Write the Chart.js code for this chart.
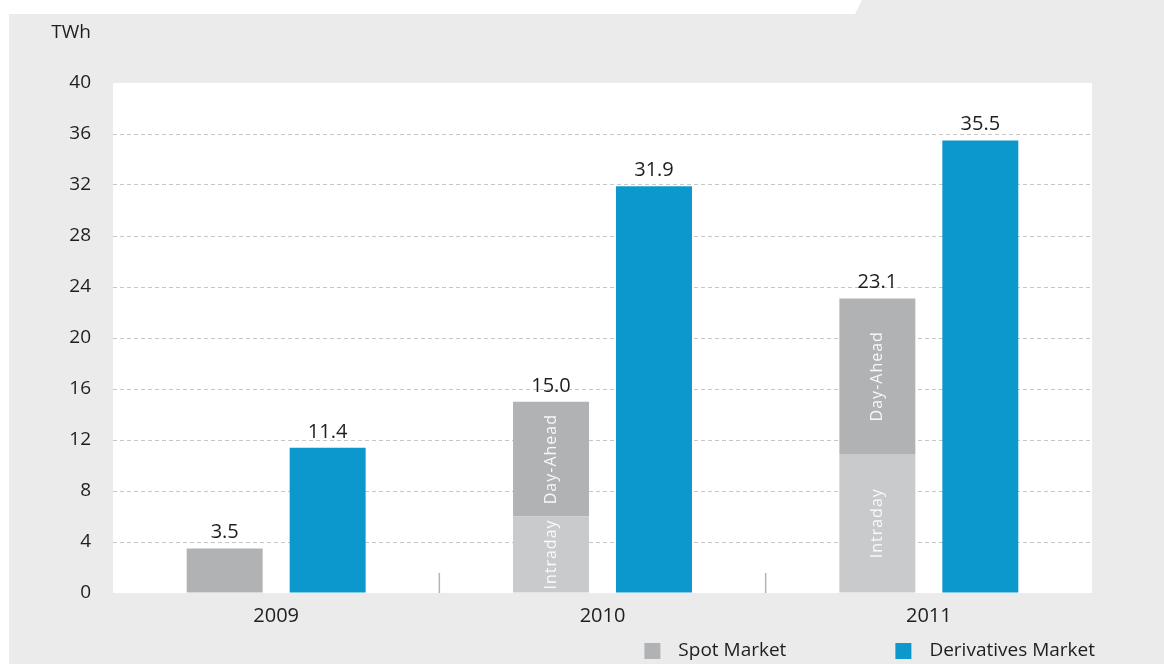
<!DOCTYPE html>
<html>
<head>
<meta charset="utf-8">
<script src="https://cdn.jsdelivr.net/npm/chart.js@4.4.1/dist/chart.umd.min.js"></script>
<style>
    html, body { margin: 0; padding: 0; background: #fff; }
    #wrap { position: relative; width: 1164px; height: 664px; }
</style>
</head>
<body>
<div id="wrap"><canvas id="volumes"></canvas></div>
<script>
// data (TWh)
const years = ['2009', '2010', '2011'];
const spotUnsplit = [3.5, null, null];
const intraday = [null, 6.0, 10.9];
const dayAhead = [null, 9.0, 12.2];
const derivatives = [11.4, 31.9, 35.5];
const yMax = 40;
const yStep = 4;
const unitLabel = 'TWh';

const FONT = '"Open Sans", "Noto Sans", sans-serif';
const TEXT = '#1e1e1e';
const SPOT = '#b1b2b4';
const INTRA = '#c9cacc';
const DERIV = '#0d98cd';

// background panel + plot area + unit label
const panel = {
    id: 'panel',
    beforeDraw(chart) {
        const { ctx, width, height, chartArea: { left, top, right, bottom } } = chart;
        ctx.save();
        ctx.fillStyle = '#ebebeb';
        ctx.beginPath();
        ctx.moveTo(9, 14);
        ctx.lineTo(855, 14);
        ctx.lineTo(862, 0);
        ctx.lineTo(width, 0);
        ctx.lineTo(width, height);
        ctx.lineTo(9, height);
        ctx.closePath();
        ctx.fill();

        ctx.fillStyle = '#fff';
        ctx.fillRect(left, top, right - left, bottom - top);

        ctx.font = '19px ' + FONT;
        ctx.fillStyle = TEXT;
        ctx.textAlign = 'right';
        ctx.textBaseline = 'middle';
        ctx.fillText(unitLabel, left - 22, 33);
        ctx.restore();
    },
    beforeDatasetsDraw(chart) {
        // short separators between the years
        const { ctx, scales: { x }, chartArea: { bottom } } = chart;
        ctx.save();
        ctx.strokeStyle = '#b4b4b4';
        ctx.lineWidth = 1.5;
        for (let i = 0; i < years.length - 1; i++) {
            const bx = (x.getPixelForTick(i) + x.getPixelForTick(i + 1)) / 2;
            ctx.beginPath();
            ctx.moveTo(bx, bottom - 20);
            ctx.lineTo(bx, bottom);
            ctx.stroke();
        }
        ctx.restore();
    }
};

// value labels, rotated segment names, legend
const annotate = {
    id: 'annotate',
    afterDatasetsDraw(chart) {
        const { ctx, data, chartArea: { right } } = chart;
        ctx.save();

        // segment names inside the split spot bars
        ctx.font = '16px ' + FONT;
        ctx.fillStyle = 'rgba(255,255,255,0.9)';
        ctx.textAlign = 'center';
        ctx.textBaseline = 'middle';
        ctx.letterSpacing = '1px';
        data.datasets.forEach((ds, di) => {
            if (!ds.inner) return;
            chart.getDatasetMeta(di).data.forEach((el, i) => {
                if (ds.data[i] == null) return;
                ctx.save();
                ctx.translate(el.x, (el.y + el.base) / 2);
                ctx.rotate(-Math.PI / 2);
                ctx.fillText(ds.inner, 0, 0);
                ctx.restore();
            });
        });
        ctx.letterSpacing = '0px';

        // totals on top of each stack
        ctx.font = '20px ' + FONT;
        ctx.fillStyle = TEXT;
        ctx.textBaseline = 'alphabetic';
        years.forEach((yr, i) => {
            ['spot', 'deriv'].forEach(stack => {
                let total = 0, top = null;
                data.datasets.forEach((ds, di) => {
                    if (ds.stack !== stack || ds.data[i] == null) return;
                    total += ds.data[i];
                    top = chart.getDatasetMeta(di).data[i];
                });
                if (top) ctx.fillText(total.toFixed(1), top.x, top.y - 10);
            });
        });

        // legend, bottom right
        const items = [['Spot Market', SPOT], ['Derivatives Market', DERIV]];
        ctx.font = '19px ' + FONT;
        ctx.textAlign = 'left';
        ctx.textBaseline = 'middle';
        const ly = 651;
        let xEnd = right + 3;
        for (let k = items.length - 1; k >= 0; k--) {
            const [label, color] = items[k];
            const w = ctx.measureText(label).width;
            const tx = xEnd - w;
            ctx.fillStyle = TEXT;
            ctx.fillText(label, tx, ly);
            ctx.fillStyle = color;
            ctx.fillRect(tx - 18 - 16, ly - 8, 16, 16);
            xEnd = tx - 18 - 16 - 109;
        }
        ctx.restore();
    }
};

const dataVolumes = {
    labels: years,
    datasets: [
        { label: 'Spot Market', data: spotUnsplit, backgroundColor: SPOT, stack: 'spot' },
        { label: 'Intraday', data: intraday, backgroundColor: INTRA, stack: 'spot', inner: 'Intraday' },
        { label: 'Day-Ahead', data: dayAhead, backgroundColor: SPOT, stack: 'spot', inner: 'Day-Ahead' },
        { label: 'Derivatives Market', data: derivatives, backgroundColor: DERIV, stack: 'deriv' }
    ]
};

const configVolumes = {
    type: 'bar',
    data: dataVolumes,
    options: {
        responsive: true,
        maintainAspectRatio: false,
        animation: false,
        categoryPercentage: 0.631,
        barPercentage: 0.738,
        layout: { padding: { top: 83, right: 72, bottom: 0, left: 0 } },
        plugins: {
            legend: { display: false },
            tooltip: { enabled: false }
        },
        scales: {
            x: {
                stacked: true,
                grid: { display: false, drawTicks: false },
                border: { display: false },
                ticks: { color: TEXT, padding: 11, font: { family: FONT, size: 20 } },
                afterFit: s => { s.height = 71; }
            },
            y: {
                stacked: true,
                min: 0,
                max: yMax,
                ticks: { stepSize: yStep, color: TEXT, padding: 22, font: { family: FONT, size: 19 } },
                grid: {
                    drawTicks: false,
                    lineWidth: 1,
                    color: c => (c.tick.value === 0 || c.tick.value === yMax) ? 'rgba(0,0,0,0)' : '#c6c6c6'
                },
                border: { display: false, dash: [4, 3] },
                afterFit: s => { s.width = 113; }
            }
        }
    },
    plugins: [panel, annotate]
};

const volumes = new Chart(document.getElementById('volumes'), configVolumes);
</script>
</body>
</html>
